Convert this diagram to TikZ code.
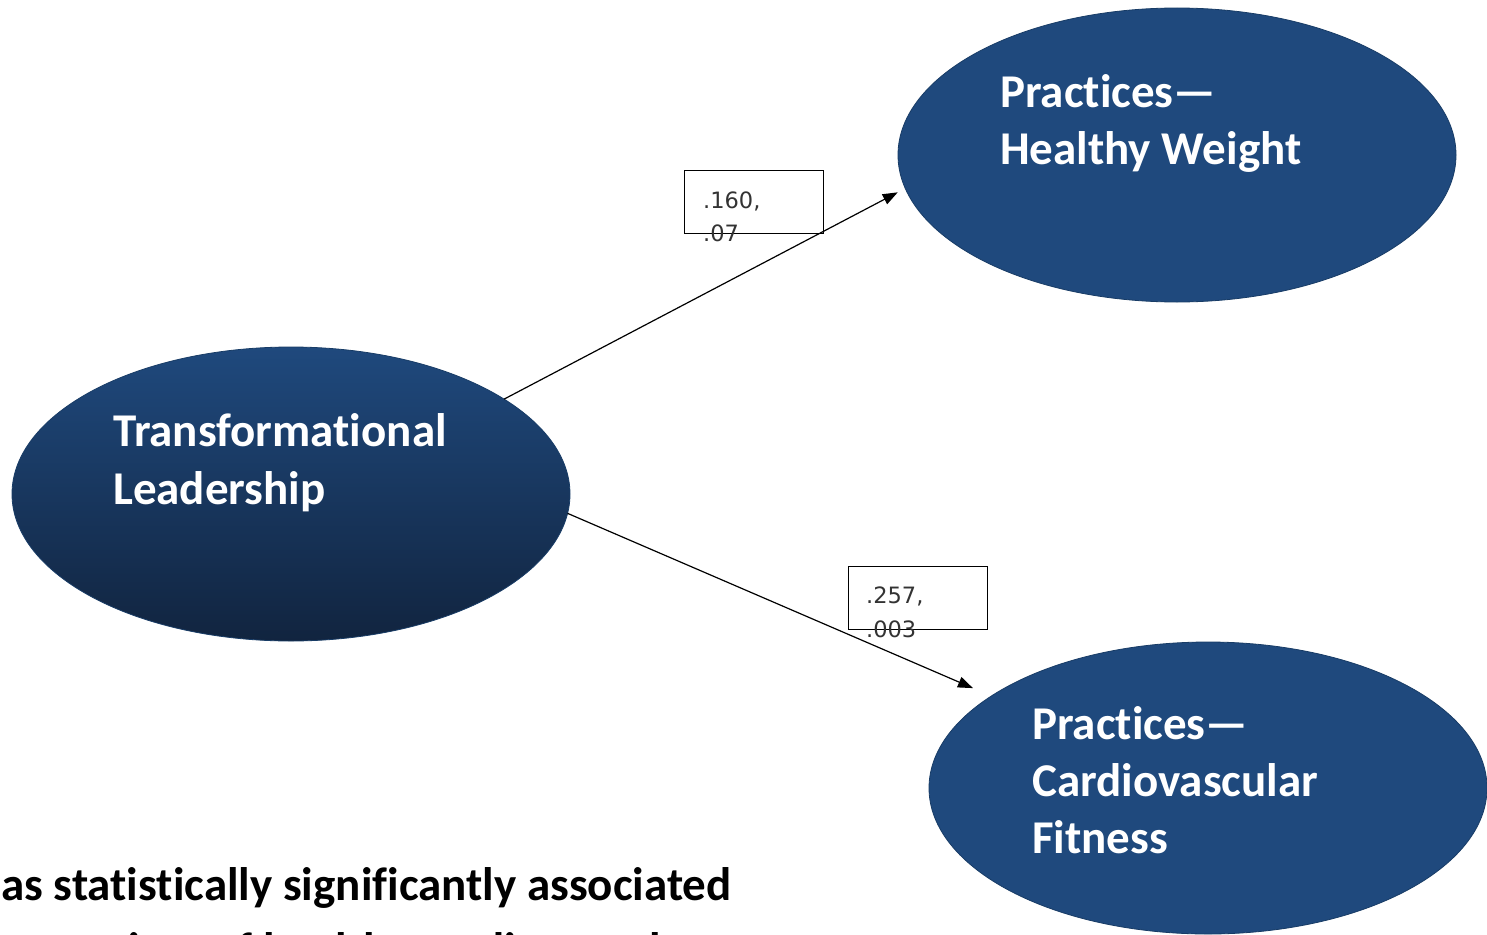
\documentclass[tikz,border=0pt]{standalone}
\usepackage{fontspec}
\newfontfamily\calibfont[RawFeature={-liga;-clig;-dlig}]{Carlito}
\newfontfamily\numfont{DejaVu Sans}
\usetikzlibrary{shapes.geometric,arrows.meta}
\definecolor{navy}{HTML}{1F497D}
\definecolor{navydark}{HTML}{11243F}
\definecolor{navyedge}{HTML}{183C66}
\begin{document}
\begin{tikzpicture}[x=1pt,y=-1pt,
  factor/.style={ellipse, inner sep=0pt, outer sep=0pt,
    minimum width=558pt, minimum height=294pt, draw=navyedge, line width=0.8pt},
  ftext/.style={anchor=base west, inner sep=0pt, text=white,
    font=\calibfont\bfseries\fontsize{47}{57}\selectfont},
  captext/.style={anchor=base west, inner sep=0pt, text=black,
    font=\calibfont\bfseries\fontsize{47}{57}\selectfont},
  lblbox/.style={draw=black, line width=1pt, inner sep=0pt, outer sep=0pt,
    minimum width=139pt, minimum height=63pt},
  lbltext/.style={anchor=base west, inner sep=0pt, text=black!80,
    font=\numfont\fontsize{22.5}{26}\selectfont},
  path/.style={draw=black, line width=1.2pt,
    -{Triangle[length=15pt,width=11pt]}}
]
\useasboundingbox (0,0) rectangle (1487,934);
\fill[white] (0,0) rectangle (1487,934);

% latent factors
\node[factor, top color=navy, middle color=navy!80!navydark, bottom color=navydark]
  (TL) at (291,494) {};
\node[factor, fill=navy] (HW) at (1177,155) {};
\node[factor, fill=navy, minimum width=558pt, minimum height=292pt] (CF) at (1208,788) {};

\node[ftext] (tl1) at (113,446) {Transformational};
\node[ftext] (tl2) at (113,504) {Leadership};
\node[ftext] (hw1) at (1000,107) {Practices—};
\node[ftext] (hw2) at (1000,164) {Healthy Weight};
\node[ftext] (cf1) at (1032,739) {Practices—};
\node[ftext] (cf2) at (1032,796) {Cardiovascular};
\node[ftext] (cf3) at (1032,853) {Fitness};

% path coefficients
\node[lblbox] (b1) at (753.5,201.5) {};
\node[lbltext] (l1a) at (703,208) {.160,};
\node[lbltext] (l1b) at (703,241) {.07};
\node[lblbox] (b2) at (918,597.5) {};
\node[lbltext] (l2a) at (866,603) {.257,};
\node[lbltext] (l2b) at (866,637) {.003};

% structural paths
\draw[path, shorten >=8.5pt] (TL.24.5) -- (HW.187.6);
\draw[path, shorten >=20pt] (TL.-4.5) -- (CF.157.7);

% caption
\node[captext] (cap1) at (1,900) {as statistically significantly associated};
\node[captext] (cap2) at (28,965) {practices of healthy cardiovascular};
\end{tikzpicture}
\end{document}
